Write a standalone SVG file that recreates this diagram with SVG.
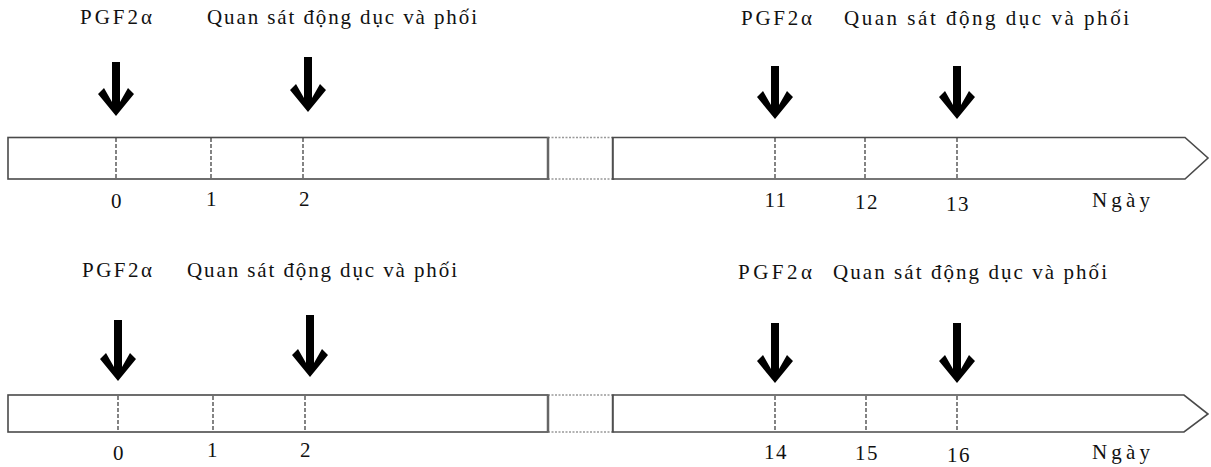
<svg xmlns="http://www.w3.org/2000/svg" width="1211" height="467" viewBox="0 0 1211 467">
<style>
.lbl{font-family:"Liberation Serif","Times New Roman",serif;font-size:21px;fill:#111}
.num{font-family:"Liberation Serif","Times New Roman",serif;font-size:21px;fill:#111;text-anchor:middle;letter-spacing:1.5px}
.bar{fill:#fff;stroke:#4a4a4a;stroke-width:1.6}
.end{stroke:#666;stroke-width:2.5;fill:none}
.gap{stroke:#999;stroke-width:1.5;stroke-dasharray:2 1.5;fill:none}
.tick{stroke:#333;stroke-width:1.2;stroke-dasharray:4 2;fill:none}
.arr{fill:#000;filter:url(#soft)}
</style>
<defs>
<filter id="soft" x="-20%" y="-10%" width="140%" height="120%"><feGaussianBlur stdDeviation="0.6"/></filter>
</defs>
<rect width="1211" height="467" fill="#fff"/>

<g id="timeline-1">
  <rect class="bar" x="8" y="137.5" width="540" height="41.5"/>
  <path class="gap" d="M548,137.5 H613 M548,179 H613"/>
  <path class="end" d="M548,137 V180 M613,137 V180"/>
  <path class="bar" d="M613,137.5 H1185 L1208,158 L1185,179 H613 Z"/>
  <path class="tick" d="M116,138 V179 M211,138 V179 M303,138 V179 M775,138 V179 M865,138 V179 M957,138 V179"/>
  <text class="num" x="117" y="208">0</text>
  <text class="num" x="212" y="206">1</text>
  <text class="num" x="305" y="206">2</text>
  <text class="num" x="776" y="207">11</text>
  <text class="num" x="867" y="209">12</text>
  <text class="num" x="958" y="211">13</text>
  <text class="lbl" x="1092" y="207" textLength="58" lengthAdjust="spacing">Ngày</text>
</g>

<g id="labels-1">
  <text class="lbl" x="80" y="24" textLength="72" lengthAdjust="spacing">PGF2α</text>
  <text class="lbl" x="207" y="24" textLength="270" lengthAdjust="spacing">Quan sát động dục và phối</text>
  <text class="lbl" x="741" y="25" textLength="71" lengthAdjust="spacing">PGF2α</text>
  <text class="lbl" x="844" y="25" textLength="285" lengthAdjust="spacing">Quan sát động dục và phối</text>
</g>

<g id="timeline-2">
  <rect class="bar" x="8" y="395" width="540" height="37"/>
  <path class="gap" d="M548,395 H613 M548,432 H613"/>
  <path class="end" d="M548,394.5 V432.5 M613,394.5 V432.5"/>
  <path class="bar" d="M613,395 H1184 L1208,414 L1184,432 H613 Z"/>
  <path class="tick" d="M118,396 V432 M213,396 V432 M305,396 V432 M775,396 V432 M866,396 V432 M957,396 V432"/>
  <text class="num" x="119" y="460">0</text>
  <text class="num" x="213" y="457">1</text>
  <text class="num" x="306" y="457">2</text>
  <text class="num" x="776" y="459">14</text>
  <text class="num" x="867" y="460">15</text>
  <text class="num" x="959" y="462">16</text>
  <text class="lbl" x="1092" y="459" textLength="58" lengthAdjust="spacing">Ngày</text>
</g>

<g id="labels-2">
  <text class="lbl" x="82" y="277" textLength="70" lengthAdjust="spacing">PGF2α</text>
  <text class="lbl" x="187" y="277" textLength="270" lengthAdjust="spacing">Quan sát động dục và phối</text>
  <text class="lbl" x="738" y="279" textLength="74" lengthAdjust="spacing">PGF2α</text>
  <text class="lbl" x="833" y="279" textLength="274" lengthAdjust="spacing">Quan sát động dục và phối</text>
</g>

<g id="connectors" class="arr">
  <path d="M112,62 H120 V102 L128,88 L134,94 L116,116 L98,94 L104,88 L112,102 Z"/>
  <path d="M304,57 H312 V98 L320,84 L326,90 L308,112 L290,90 L296,84 L304,98 Z"/>
  <path d="M771,66 H779 V105 L787,91 L793,97 L775,119 L757,97 L763,91 L771,105 Z"/>
  <path d="M953,66 H961 V105 L969,91 L975,97 L957,119 L939,97 L945,91 L953,105 Z"/>
  <path d="M114,320 H122 V367 L130,353 L136,359 L118,381 L100,359 L106,353 L114,367 Z"/>
  <path d="M306,315 H314 V363 L322,349 L328,355 L310,377 L292,355 L298,349 L306,363 Z"/>
  <path d="M771,323 H779 V369 L787,355 L793,361 L775,383 L757,361 L763,355 L771,369 Z"/>
  <path d="M953,323 H961 V369 L969,355 L975,361 L957,383 L939,361 L945,355 L953,369 Z"/>
</g>
</svg>
